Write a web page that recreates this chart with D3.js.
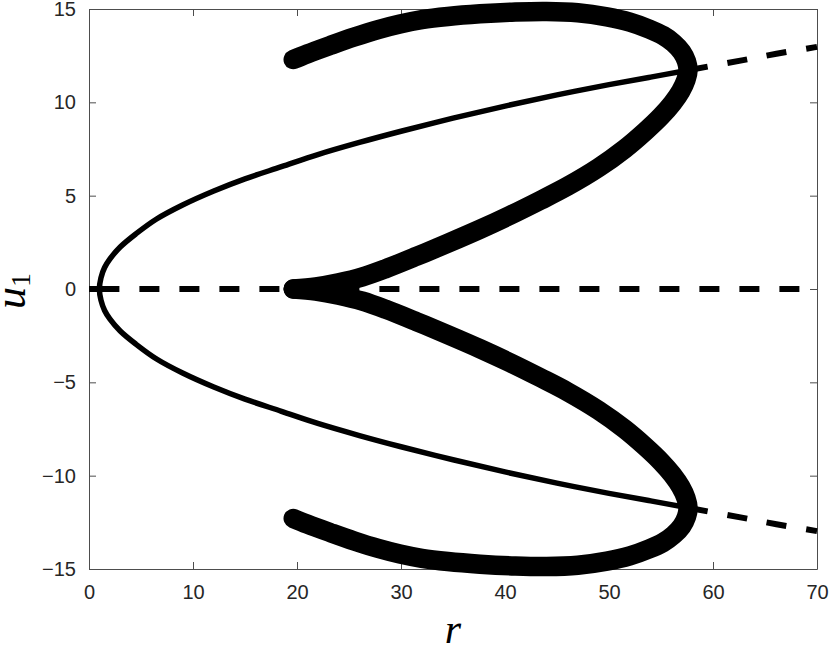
<!DOCTYPE html>
<html>
<head>
<meta charset="utf-8">
<script src="https://cdn.jsdelivr.net/npm/d3@7/dist/d3.min.js"></script>
<style>
  html, body { margin: 0; padding: 0; background: #fff; }
  svg { display: block; }
</style>
</head>
<body>
<svg id="chart" width="830" height="649"></svg>
<script>
// ---- data ----
const xTicks = [0, 10, 20, 30, 40, 50, 60, 70];
const yTicks = [-15, -10, -5, 0, 5, 10, 15];

// trivial equilibrium u1 = 0 : stable part and unstable part
const originStableR = [0, 1];
const originStableU = [0, 0];
const originUnstableR = [1, 70];
const originUnstableU = [0, 0];

// non-trivial equilibria, stable part (solid); upper and lower branches
const eqUpperR = [1.0, 1.15, 1.5, 2.0, 3.0, 4.5, 6.5, 9.0, 12.0, 15.0, 18.5, 22.0, 26.0, 30.0, 35.0, 40.0, 45.0, 50.0, 54.0, 57.6];
const eqUpperU = [0.0, 0.6, 1.15, 1.6, 2.25, 2.95, 3.75, 4.5, 5.25, 5.9, 6.55, 7.2, 7.85, 8.45, 9.15, 9.8, 10.4, 10.95, 11.35, 11.72];
const eqLowerR = [1.0, 1.15, 1.5, 2.0, 3.0, 4.5, 6.5, 9.0, 12.0, 15.0, 18.5, 22.0, 26.0, 30.0, 35.0, 40.0, 45.0, 50.0, 54.0, 57.6];
const eqLowerU = [0.0, -0.6, -1.15, -1.6, -2.25, -2.95, -3.75, -4.5, -5.25, -5.9, -6.55, -7.2, -7.85, -8.45, -9.15, -9.8, -10.4, -10.95, -11.35, -11.72];
// unstable continuation (dashed)
const eqUpperDashR = [57.6, 62.9, 66.1, 70.0];
const eqUpperDashU = [11.72, 12.26, 12.6, 12.97];
const eqLowerDashR = [57.6, 62.9, 66.1, 70.0];
const eqLowerDashU = [-11.72, -12.26, -12.6, -12.97];

// periodic-orbit branch (thick), upper loop: outer arc then inner arc back to u1 = 0
const orbitUpperR = [19.64, 21.0, 23.2, 25.5, 27.8, 29.9, 32.0, 34.5, 37.6, 41.0, 44.0, 47.0, 49.8, 52.0, 53.9, 55.2, 56.2, 57.0, 57.45, 57.6,
                     57.4, 56.9, 56.1, 55.0, 53.5, 51.5, 49.0, 46.0, 43.4, 40.5, 37.6, 34.5, 31.5, 28.5, 26.3, 24.0, 21.8, 19.64];
const orbitUpperU = [12.29, 12.6, 13.05, 13.5, 13.9, 14.2, 14.43, 14.6, 14.74, 14.84, 14.87, 14.8, 14.58, 14.3, 13.92, 13.58, 13.18, 12.7, 12.2, 11.72,
                     11.2, 10.6, 9.95, 9.25, 8.45, 7.5, 6.5, 5.5, 4.75, 3.95, 3.2, 2.45, 1.75, 1.08, 0.65, 0.33, 0.11, 0.0];
// lower loop
const orbitLowerR = [19.64, 21.8, 24.0, 26.3, 28.5, 31.5, 34.5, 37.6, 40.5, 43.4, 46.0, 49.0, 51.5, 53.5, 55.0, 56.1, 56.9, 57.4, 57.6,
                     57.45, 57.0, 56.2, 55.2, 53.9, 52.0, 49.8, 47.0, 44.0, 41.0, 37.6, 34.5, 32.0, 29.9, 27.8, 25.5, 23.2, 21.0, 19.64];
const orbitLowerU = [0.0, -0.11, -0.33, -0.65, -1.08, -1.75, -2.45, -3.2, -3.95, -4.75, -5.5, -6.5, -7.5, -8.45, -9.25, -9.95, -10.6, -11.2, -11.72,
                     -12.2, -12.7, -13.18, -13.58, -13.92, -14.3, -14.58, -14.8, -14.87, -14.84, -14.74, -14.6, -14.43, -14.2, -13.9, -13.5, -13.05, -12.6, -12.29];

// ---- layout ----
const plotL = 89, plotR = 817, plotT = 9, plotB = 569;
const svg = d3.select("#chart");

const x = d3.scaleLinear().domain([0, 70]).range([plotL, plotR]);
const y = d3.scaleLinear().domain([-15, 15]).range([plotB, plotT]);

const axisColor = "#4d4d4d";
const textColor = "#262626";
const tickFont = "'Liberation Sans', Arial, Helvetica, sans-serif";

function styleAxis(g) {
  g.selectAll(".domain").attr("stroke", axisColor).attr("stroke-width", 1);
  g.selectAll(".tick line").attr("stroke", axisColor).attr("stroke-width", 1);
  g.selectAll(".tick text").attr("fill", textColor)
    .style("font-family", tickFont).style("font-size", "20px");
}

svg.append("g").attr("transform", `translate(0,${plotB})`)
  .call(d3.axisBottom(x).tickValues(xTicks).tickFormat(d3.format("d")).tickSizeInner(-7).tickSizeOuter(0).tickPadding(16))
  .call(styleAxis);
svg.append("g").attr("transform", `translate(0,${plotT})`)
  .call(d3.axisTop(x).tickValues(xTicks).tickFormat("").tickSizeInner(-7).tickSizeOuter(0))
  .call(styleAxis);
svg.append("g").attr("transform", `translate(${plotL},0)`)
  .call(d3.axisLeft(y).tickValues(yTicks).tickFormat(d3.format("d")).tickSizeInner(-7).tickSizeOuter(0).tickPadding(13))
  .call(styleAxis);
svg.append("g").attr("transform", `translate(${plotR},0)`)
  .call(d3.axisRight(y).tickValues(yTicks).tickFormat("").tickSizeInner(-7).tickSizeOuter(0))
  .call(styleAxis);

// ---- curves ----
const zip = (R, U) => R.map((r, i) => [r, U[i]]);
const lineLin = d3.line().x(d => x(d[0])).y(d => y(d[1]));
const lineSmooth = d3.line().x(d => x(d[0])).y(d => y(d[1])).curve(d3.curveCatmullRom.alpha(0.5));

const gCurves = svg.append("g");

gCurves.append("path").datum(zip(originStableR, originStableU))
  .attr("d", lineLin).attr("fill", "none").attr("stroke", "#000").attr("stroke-width", 6);
gCurves.append("path").datum(zip(originUnstableR, originUnstableU))
  .attr("d", lineLin).attr("fill", "none").attr("stroke", "#000").attr("stroke-width", 6)
  .attr("stroke-dasharray", "20,20");

// stable non-trivial equilibria: lower branch (reversed) joined to upper branch at the vertex
const eqPath = zip(eqLowerR, eqLowerU).reverse().concat(zip(eqUpperR, eqUpperU).slice(1));
gCurves.append("path").datum(eqPath)
  .attr("d", lineSmooth).attr("fill", "none").attr("stroke", "#000").attr("stroke-width", 5.5)
  .attr("stroke-linejoin", "round");

[[eqUpperDashR, eqUpperDashU], [eqLowerDashR, eqLowerDashU]].forEach(([R, U]) => {
  gCurves.append("path").datum(zip(R, U))
    .attr("d", lineSmooth).attr("fill", "none").attr("stroke", "#000").attr("stroke-width", 6)
    .attr("stroke-dasharray", "20,20");
});

[[orbitUpperR, orbitUpperU], [orbitLowerR, orbitLowerU]].forEach(([R, U]) => {
  gCurves.append("path").datum(zip(R, U))
    .attr("d", lineSmooth).attr("fill", "none").attr("stroke", "#000").attr("stroke-width", 19.5)
    .attr("stroke-linecap", "round").attr("stroke-linejoin", "round");
});

// ---- axis labels ----
svg.append("text")
  .attr("x", (plotL + plotR) / 2).attr("y", 643)
  .attr("text-anchor", "middle")
  .style("font-family", "'Liberation Serif', 'DejaVu Serif', serif")
  .style("font-style", "italic").style("font-size", "42px")
  .attr("fill", "#000").text("r");

const yl = svg.append("text")
  .attr("transform", `translate(25,${(plotT + plotB) / 2 + 2}) rotate(-90)`)
  .attr("text-anchor", "middle")
  .style("font-family", "'Liberation Serif', 'DejaVu Serif', serif")
  .style("font-size", "44px").attr("fill", "#000");
yl.append("tspan").style("font-style", "italic").text("u");
yl.append("tspan").attr("dy", 5).style("font-size", "28px").text("1");
</script>
</body>
</html>
